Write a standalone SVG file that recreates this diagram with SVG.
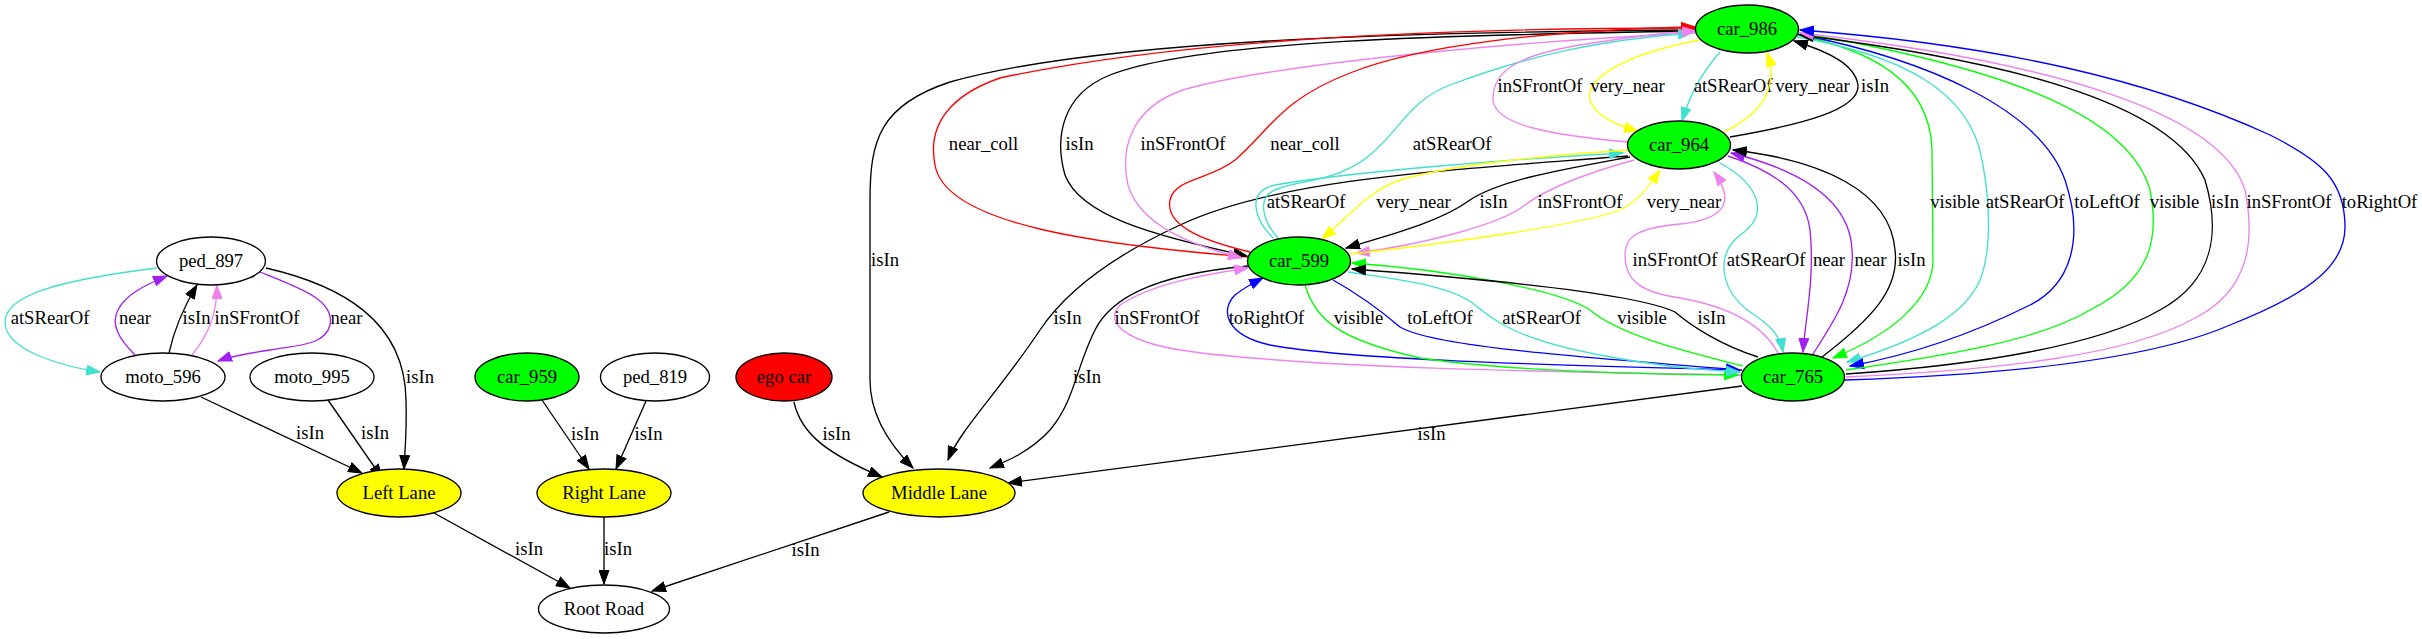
<svg xmlns="http://www.w3.org/2000/svg" width="2422" height="639" viewBox="0 0 2422 639">
<style>
text{font-family:"Liberation Serif","Times New Roman",serif;font-size:18.67px;text-anchor:middle;fill:#000}
.n{stroke:#000;stroke-width:1.33}
.w{fill:#fff}.gr{fill:#00ff00}.ye{fill:#ffff00}.rd{fill:#ff0000}
.e path{fill:none;stroke-width:1.33}
.k{stroke:#000;marker-end:url(#ak)}
.r{stroke:#ff0000;marker-end:url(#ar)}
.t{stroke:#40e0d0;marker-end:url(#at)}
.p{stroke:#a020f0;marker-end:url(#ap)}
.v{stroke:#ee82ee;marker-end:url(#av)}
.y{stroke:#ffff00;marker-end:url(#ay)}
.g{stroke:#00ff00;marker-end:url(#ag)}
.b{stroke:#0000ff;marker-end:url(#ab)}
</style>
<defs>
<marker id="ak" markerUnits="userSpaceOnUse" markerWidth="15" markerHeight="11" viewBox="0 0 15 11" refX="14" refY="5.5" orient="auto"><path d="M0.5,0.6 L14,5.5 L0.5,10.4 z" fill="#000" stroke="#000"/></marker>
<marker id="ar" markerUnits="userSpaceOnUse" markerWidth="15" markerHeight="11" viewBox="0 0 15 11" refX="14" refY="5.5" orient="auto"><path d="M0.5,0.6 L14,5.5 L0.5,10.4 z" fill="#ff0000" stroke="#ff0000"/></marker>
<marker id="at" markerUnits="userSpaceOnUse" markerWidth="15" markerHeight="11" viewBox="0 0 15 11" refX="14" refY="5.5" orient="auto"><path d="M0.5,0.6 L14,5.5 L0.5,10.4 z" fill="#40e0d0" stroke="#40e0d0"/></marker>
<marker id="ap" markerUnits="userSpaceOnUse" markerWidth="15" markerHeight="11" viewBox="0 0 15 11" refX="14" refY="5.5" orient="auto"><path d="M0.5,0.6 L14,5.5 L0.5,10.4 z" fill="#a020f0" stroke="#a020f0"/></marker>
<marker id="av" markerUnits="userSpaceOnUse" markerWidth="15" markerHeight="11" viewBox="0 0 15 11" refX="14" refY="5.5" orient="auto"><path d="M0.5,0.6 L14,5.5 L0.5,10.4 z" fill="#ee82ee" stroke="#ee82ee"/></marker>
<marker id="ay" markerUnits="userSpaceOnUse" markerWidth="15" markerHeight="11" viewBox="0 0 15 11" refX="14" refY="5.5" orient="auto"><path d="M0.5,0.6 L14,5.5 L0.5,10.4 z" fill="#ffff00" stroke="#ffff00"/></marker>
<marker id="ag" markerUnits="userSpaceOnUse" markerWidth="15" markerHeight="11" viewBox="0 0 15 11" refX="14" refY="5.5" orient="auto"><path d="M0.5,0.6 L14,5.5 L0.5,10.4 z" fill="#00ff00" stroke="#00ff00"/></marker>
<marker id="ab" markerUnits="userSpaceOnUse" markerWidth="15" markerHeight="11" viewBox="0 0 15 11" refX="14" refY="5.5" orient="auto"><path d="M0.5,0.6 L14,5.5 L0.5,10.4 z" fill="#0000ff" stroke="#0000ff"/></marker>
</defs>
<rect width="2422" height="639" fill="#fff"/>
<g id="edges" class="e">
<path class="t" d="M157,268 C60,280 5,295 5,322 C5,350 60,366 100,372"/><text x="50" y="324">atSRearOf</text>
<path class="p" d="M135,355 C120,340 110,325 118,310 C125,295 145,285 167,276"/><text x="135" y="324">near</text>
<path class="k" d="M169,353 C175,325 185,305 197,285"/><text x="196.5" y="324">isIn</text>
<path class="v" d="M192,355 C208,335 217,315 217,285"/><text x="257" y="324">inSFrontOf</text>
<path class="p" d="M260,272 C300,288 335,300 330,325 C325,345 300,345 270,350 C250,353 232,356 218,361"/><text x="346.5" y="324">near</text>
<path class="k" d="M266,268 C340,285 405,320 406,400 C407,430 405,450 404,469"/><text x="420" y="383">isIn</text>
<path class="k" d="M201,397 L362,473"/><text x="310" y="439">isIn</text>
<path class="k" d="M328,400 L382,478"/><text x="375" y="439">isIn</text>
<path class="k" d="M542,400 L589,469"/><text x="585" y="440">isIn</text>
<path class="k" d="M646,401 L616,469"/><text x="648.5" y="440">isIn</text>
<path class="k" d="M434,513 L570,588"/><text x="529" y="555">isIn</text>
<path class="k" d="M604,517 L604,584"/><text x="618" y="555">isIn</text>
<path class="k" d="M889,512 L652,591"/><text x="805.5" y="556">isIn</text>
<path class="k" d="M794,402 C801,435 830,455 882,477"/><text x="836.5" y="440">isIn</text>
<path class="k" d="M1742,386 L1008,483"/><text x="1431.5" y="440">isIn</text>
<path class="k" d="M1696,30 C1400,32 1100,40 950,82 C880,105 870,140 870,200 L870,380 C870,420 895,450 913,468"/><text x="885" y="266">isIn</text>
<path class="k" d="M1628,156 C1450,170 1280,178 1180,225 C1100,262 1060,300 1040,330 C1000,390 960,430 948,460"/><text x="1067.5" y="324">isIn</text>
<path class="k" d="M1248,266 C1150,275 1110,300 1095,330 C1075,370 1075,400 1050,430 C1030,452 1005,462 990,468"/><text x="1087" y="383">isIn</text>
<path class="r" d="M1248,257 C1100,245 945,225 935,165 C925,115 965,90 1000,78 C1200,35 1500,28 1695,28"/><text x="983.5" y="150">near_coll</text>
<path class="k" d="M1696,31 C1450,35 1200,40 1110,75 C1060,95 1055,140 1065,175 C1080,215 1150,235 1247,256"/><text x="1079.5" y="150">isIn</text>
<path class="v" d="M1696,33 C1450,45 1250,70 1183,90 C1130,108 1120,150 1128,185 C1140,225 1190,245 1242,258"/><text x="1183" y="150">inSFrontOf</text>
<path class="r" d="M1250,252 C1200,240 1165,225 1170,200 C1175,178 1210,180 1235,160 C1270,130 1280,100 1350,73 C1420,45 1550,30 1695,27"/><text x="1305" y="150">near_coll</text>
<path class="t" d="M1278,238 C1262,220 1255,195 1280,188 C1305,180 1340,180 1370,155 C1400,130 1410,100 1450,85 C1530,55 1600,40 1692,33"/><text x="1452" y="150">atSRearOf</text>
<path class="t" d="M1273,238 C1255,220 1245,192 1275,185 C1350,172 1500,160 1623,153"/><text x="1306" y="208">atSRearOf</text>
<path class="y" d="M1628,150 C1550,155 1450,165 1400,180 C1370,190 1350,215 1322,239"/><text x="1413.5" y="208">very_near</text>
<path class="k" d="M1630,157 C1560,170 1500,180 1470,200 C1440,222 1390,235 1346,248"/><text x="1493.5" y="208">isIn</text>
<path class="v" d="M1634,160 C1580,175 1545,190 1525,205 C1500,225 1420,245 1356,253"/><text x="1580" y="208">inSFrontOf</text>
<path class="y" d="M1350,254 C1450,243 1580,225 1620,210 C1640,200 1650,185 1660,170"/><text x="1684" y="208">very_near</text>
<path class="y" d="M1700,40 C1620,55 1585,80 1590,100 C1595,115 1615,125 1638,131"/><text x="1627.5" y="92">very_near</text>
<path class="v" d="M1628,142 C1550,135 1495,125 1493,100 C1492,70 1520,55 1580,45 C1630,37 1660,33 1696,31"/><text x="1540" y="92">inSFrontOf</text>
<path class="t" d="M1720,52 C1700,75 1690,95 1682,121"/><text x="1733" y="92">atSRearOf</text>
<path class="y" d="M1722,133 C1760,115 1780,90 1767,53"/><text x="1812.5" y="92">very_near</text>
<path class="k" d="M1730,137 C1800,125 1860,110 1858,85 C1855,65 1830,52 1794,41"/><text x="1875" y="92">isIn</text>
<path class="v" d="M1778,353 C1760,320 1720,305 1680,298 C1640,292 1625,280 1625,255 C1625,235 1640,228 1680,224 C1720,220 1738,205 1714,172"/><text x="1675" y="266">inSFrontOf</text>
<path class="t" d="M1720,163 C1760,185 1770,215 1740,235 C1715,255 1720,290 1750,312 C1770,325 1780,335 1783,352"/><text x="1766" y="266">atSRearOf</text>
<path class="p" d="M1728,156 C1770,170 1805,190 1810,230 C1815,280 1805,320 1803,352"/><text x="1829" y="266">near</text>
<path class="p" d="M1813,354 C1835,320 1855,290 1852,250 C1850,200 1800,170 1731,153"/><text x="1870.5" y="266">near</text>
<path class="k" d="M1822,357 C1870,320 1900,290 1895,250 C1890,190 1820,160 1733,150"/><text x="1911.5" y="266">isIn</text>
<path class="g" d="M1797,35 C1870,50 1930,80 1932,150 L1933,260 C1933,300 1890,335 1833,358"/><text x="1955" y="208">visible</text>
<path class="t" d="M1797,37 C1900,55 1970,90 1982,160 C1990,200 1992,250 1980,280 C1965,315 1920,340 1847,362"/><text x="2025" y="208">atSRearOf</text>
<path class="b" d="M1797,34 C1930,60 2040,110 2065,180 C2085,240 2070,285 2030,305 C1970,335 1910,355 1850,366"/><text x="2107" y="208">toLeftOf</text>
<path class="g" d="M1846,370 C1950,355 2040,340 2090,310 C2150,280 2160,240 2150,190 C2130,120 2020,70 1800,33"/><text x="2174.5" y="208">visible</text>
<path class="k" d="M1846,374 C1980,365 2100,345 2160,310 C2215,280 2220,230 2205,180 C2170,100 2000,60 1800,35"/><text x="2225" y="208">isIn</text>
<path class="v" d="M1846,377 C2000,370 2130,355 2195,318 C2250,290 2255,240 2245,190 C2220,110 2040,60 1800,33"/><text x="2289" y="208">inSFrontOf</text>
<path class="b" d="M1845,380 C2000,375 2150,360 2230,325 C2320,290 2345,260 2345,227 C2345,180 2320,160 2270,135 C2150,80 2000,45 1800,30"/><text x="2379.5" y="208">toRightOf</text>
<path class="v" d="M1742,375 C1550,372 1300,368 1180,350 C1120,340 1105,320 1120,305 C1150,285 1200,275 1248,268"/><text x="1157" y="324">inSFrontOf</text>
<path class="b" d="M1742,370 C1550,365 1350,360 1270,345 C1225,335 1220,310 1235,295 C1245,287 1253,283 1263,278"/><text x="1266.5" y="324">toRightOf</text>
<path class="g" d="M1305,285 C1315,320 1340,340 1420,358 C1500,370 1620,374 1738,375"/><text x="1358.5" y="324">visible</text>
<path class="b" d="M1333,280 C1360,295 1380,310 1400,327 C1430,345 1550,355 1740,370"/><text x="1440" y="324">toLeftOf</text>
<path class="t" d="M1348,272 C1400,280 1450,285 1475,305 C1495,322 1520,340 1600,355 C1650,365 1700,370 1740,372"/><text x="1541.5" y="324">atSRearOf</text>
<path class="g" d="M1743,366 C1680,350 1620,335 1590,310 C1560,290 1450,270 1352,263"/><text x="1642" y="324">visible</text>
<path class="k" d="M1758,357 C1720,345 1690,325 1675,312 C1640,295 1500,280 1352,269"/><text x="1711.5" y="324">isIn</text>
</g>
<g id="node_ped_897"><ellipse class="n w" cx="211" cy="261" rx="54.5" ry="24"/><text x="211" y="267">ped_897</text></g>
<g id="node_moto_596"><ellipse class="n w" cx="163" cy="377" rx="62" ry="24"/><text x="163" y="383">moto_596</text></g>
<g id="node_moto_995"><ellipse class="n w" cx="312" cy="377" rx="62" ry="24"/><text x="312" y="383">moto_995</text></g>
<g id="node_car_959"><ellipse class="n gr" cx="527" cy="377" rx="52" ry="24"/><text x="527" y="383">car_959</text></g>
<g id="node_ped_819"><ellipse class="n w" cx="655" cy="377" rx="54.5" ry="24"/><text x="655" y="383">ped_819</text></g>
<g id="node_ego_car"><ellipse class="n rd" cx="784" cy="377" rx="48" ry="24"/><text x="784" y="383">ego car</text></g>
<g id="node_left_lane"><ellipse class="n ye" cx="399" cy="493" rx="62" ry="24"/><text x="399" y="499">Left Lane</text></g>
<g id="node_right_lane"><ellipse class="n ye" cx="604" cy="493" rx="67" ry="24"/><text x="604" y="499">Right Lane</text></g>
<g id="node_middle_lane"><ellipse class="n ye" cx="939" cy="493" rx="76" ry="24"/><text x="939" y="499">Middle Lane</text></g>
<g id="node_root_road"><ellipse class="n w" cx="604" cy="609" rx="65.5" ry="24"/><text x="604" y="615">Root Road</text></g>
<g id="node_car_986"><ellipse class="n gr" cx="1747" cy="29" rx="51.5" ry="24"/><text x="1747" y="35">car_986</text></g>
<g id="node_car_964"><ellipse class="n gr" cx="1679" cy="145" rx="51.5" ry="24"/><text x="1679" y="151">car_964</text></g>
<g id="node_car_599"><ellipse class="n gr" cx="1299" cy="261" rx="51.5" ry="24"/><text x="1299" y="267">car_599</text></g>
<g id="node_car_765"><ellipse class="n gr" cx="1793" cy="377" rx="51.5" ry="24"/><text x="1793" y="383">car_765</text></g>
</svg>
